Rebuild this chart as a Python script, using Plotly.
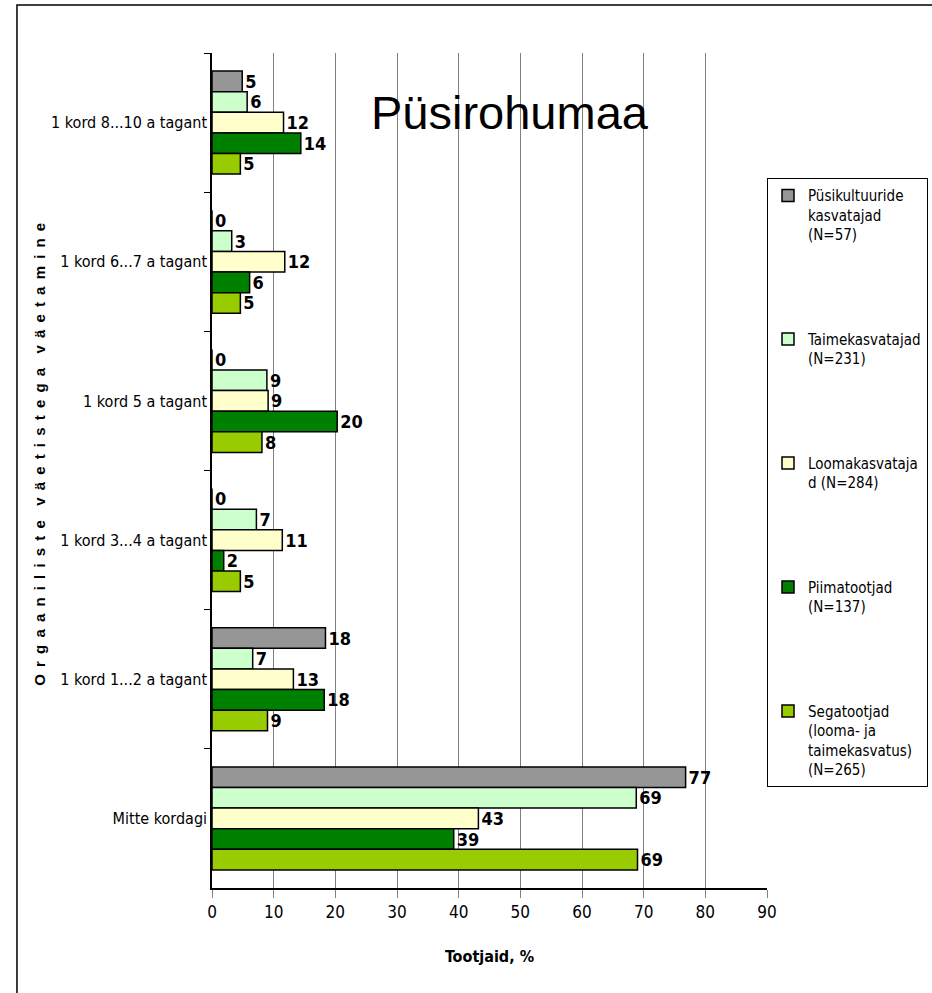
import plotly.graph_objects as go

# categories, top to bottom as in the picture
categories = ["1 kord 8...10 a tagant", "1 kord 6...7 a tagant", "1 kord 5 a tagant",
              "1 kord 3...4 a tagant", "1 kord 1...2 a tagant", "Mitte kordagi"]

series_names = ["Püsikultuuride<br>kasvatajad<br>(N=57)",
                "Taimekasvatajad<br>(N=231)",
                "Loomakasvataja<br>d (N=284)",
                "Piimatootjad<br>(N=137)",
                "Segatootjad<br>(looma- ja<br>taimekasvatus)<br>(N=265)"]

pysikultuurid = [4.9, 0, 0, 0, 18.4, 76.8]
taimekasvatajad = [5.7, 3.2, 8.9, 7.2, 6.6, 68.8]
loomakasvatajad = [11.6, 11.8, 9.1, 11.4, 13.2, 43.2]
piimatootjad = [14.4, 6.1, 20.3, 1.9, 18.2, 39.2]
segatootjad = [4.6, 4.6, 8.1, 4.6, 9.0, 69.0]

colors = ["#969696", "#CCFFCC", "#FFFFCC", "#008000", "#99CC00"]

NARROW = "Liberation Sans Narrow, DejaVu Sans Condensed, Arial Narrow, sans-serif"

fig = go.Figure()
all_series = [pysikultuurid, taimekasvatajad, loomakasvatajad, piimatootjad, segatootjad]
for i, (name, vals) in enumerate(zip(series_names, all_series)):
    fig.add_trace(go.Bar(
        y=categories, x=vals, name=name, orientation="h",
        legendgroup=str(i),
        marker=dict(color=colors[i], line=dict(color="black", width=1.5)),
        texttemplate="%{x:.0f}", textposition="outside", cliponaxis=False,
        constraintext="none",
        textfont=dict(family=NARROW, size=18, color="black", weight="bold"),
    ))

# axis title with wide letter spacing
ytitle = " \u2009 \u2009".join(" \u2009".join(w) for w in "Orgaaniliste väetistega väetamine".split())

fig.add_annotation(text="Püsirohumaa", x=0.537, y=0.929, xref="paper", yref="paper",
                   xanchor="center", yanchor="middle", showarrow=False,
                   font=dict(family="Liberation Sans, Arial", size=47, color="black"))
fig.add_annotation(text=ytitle, textangle=-90, x=-0.31, y=0.52, xref="paper", yref="paper",
                   xanchor="center", yanchor="middle", showarrow=False,
                   font=dict(family="Liberation Sans, Arial", size=15,
                             color="black", weight="bold"))

# frame around the chart (left and top edges visible)
fig.add_shape(type="path", xref="paper", yref="paper",
              path="M -0.3514 -0.2 L -0.3514 1.0575 L 1.4 1.0575",
              line=dict(color="black", width=1.5))

fig.update_layout(
    width=932, height=993,
    margin=dict(l=212, r=165, t=53, b=105, autoexpand=False),
    paper_bgcolor="white", plot_bgcolor="white",
    barmode="group", bargap=0.26, bargroupgap=0,
    showlegend=True,
    legend=dict(x=1.0, y=0.85, xanchor="left", yanchor="top",
                bordercolor="black", borderwidth=1, bgcolor="white",
                font=dict(family=NARROW, size=15, color="black"),
                tracegroupgap=82, valign="top", itemwidth=30),
    xaxis=dict(range=[0, 90], dtick=10, showgrid=True, gridcolor="#808080", gridwidth=1,
               showline=True, linecolor="black", linewidth=1.5,
               ticks="outside", ticklen=8, tickcolor="#808080",
               tickfont=dict(family=NARROW, size=17, color="black"),
               zeroline=False, automargin=False,
               title=dict(text="<b>Tootjaid, %</b>", standoff=30,
                          font=dict(family=NARROW, size=16, color="black"))),
    yaxis=dict(autorange="reversed", showline=True, linecolor="black", linewidth=1.5,
               ticks="outside", ticklen=6, tickson="boundaries", tickcolor="black",
               tickfont=dict(family=NARROW, size=16, color="black"),
               showgrid=False, automargin=False),
)

# page has a default 8px body margin; remove it so the chart sits at the corner
fig.write_html("out.html", config={"displayModeBar": False},
               post_script="document.body.style.margin='0';")
